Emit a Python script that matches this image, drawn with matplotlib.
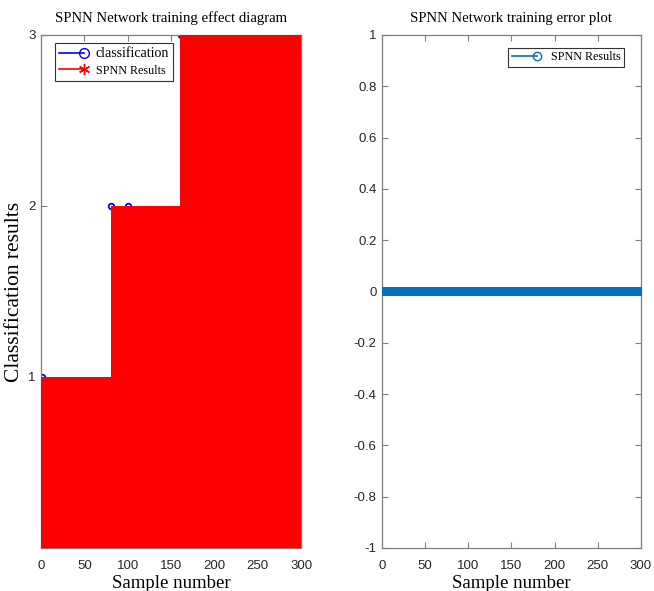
import numpy as np
import matplotlib
matplotlib.use('Agg')
import matplotlib.pyplot as plt
from matplotlib.lines import Line2D
from matplotlib.legend_handler import HandlerLine2D

# samples and their class labels (three blocks of training data)
samples = np.arange(1, 301)
class_bounds = [(1, 80, 1), (81, 160, 2), (161, 300, 3)]
classification = np.concatenate([np.full(hi - lo + 1, c) for lo, hi, c in class_bounds])
spnn_result = classification.copy()
train_error = spnn_result - classification

# markers of the target curve that show past the network output
shown_marks = [0, 80, 99, 160, 197, 299]

xticks = [0, 50, 100, 150, 200, 250, 300]
yticks_left = [1, 2, 3]
yticks_right = [-1, -0.8, -0.6, -0.4, -0.2, 0, 0.2, 0.4, 0.6, 0.8, 1]
ylabels_right = ['-1', '-0.8', '-0.6', '-0.4', '-0.2', '0', '0.2', '0.4', '0.6', '0.8', '1']

serif = 'Liberation Serif'
sans = 'Liberation Sans'
spine_col = '#7f7f7f'
tick_col = '#262626'


class EndMarkerHandler(HandlerLine2D):
    'legend line with its marker at the right end'
    def create_artists(self, *args, **kwargs):
        arts = super().create_artists(*args, **kwargs)
        for a in arts:
            a.set_markevery([2])
        return arts


fig = plt.figure(figsize=(6.54, 5.91), dpi=100)
ax1 = fig.add_axes([0.0627, 0.0728, 0.3976, 0.868])
ax2 = fig.add_axes([0.584, 0.0728, 0.396, 0.868])

def style(ax):
    for s in ax.spines.values():
        s.set_color(spine_col)
        s.set_linewidth(0.9)
    ax.tick_params(direction='in', top=True, right=True, length=4,
                   color=spine_col, labelsize=9.5, labelcolor=tick_col)
    ax.tick_params(axis='x', pad=9)
    ax.tick_params(axis='y', pad=4)
    for lab in ax.get_xticklabels() + ax.get_yticklabels():
        lab.set_family(sans)
    ax.set_xlim(0, 300)

# left: classification vs network output
ax1.plot(samples, classification, 'o', color='blue', ms=4, mfc='none', mew=1.3,
         markevery=shown_marks, zorder=2)
ax1.bar(samples, spnn_result, width=1.0, color='red', lw=0, zorder=3)
ax1.set_ylim(0, 3)
ax1.set_xticks(xticks)
ax1.set_yticks(yticks_left)
style(ax1)
ax1.set_title('SPNN Network training effect diagram', family=serif, fontsize=10.6, pad=9)
ax1.set_xlabel('Sample number', family=serif, fontsize=13.5, labelpad=2)
ax1.set_ylabel('Classification results', family=serif, fontsize=15.5, labelpad=3)
h1 = [Line2D([], [], color='blue', marker='o', mfc='none', ms=7, lw=1.2),
      Line2D([], [], color='red', marker=(6, 2, 0), ms=8, lw=1.2)]
leg1 = ax1.legend(h1, ['classification', 'SPNN Results'], loc='upper left',
                  bbox_to_anchor=(0.03, 0.997), fancybox=False, edgecolor='#333333',
                  framealpha=1, handlelength=2.0, borderpad=0.35, labelspacing=0.35,
                  handletextpad=0.9, fontsize=9,
                  handler_map={Line2D: EndMarkerHandler()})
leg1.get_frame().set_linewidth(0.8)
leg1.set_zorder(5)
leg1.get_texts()[0].set_family(serif)
leg1.get_texts()[0].set_fontsize(10)
leg1.get_texts()[1].set_family(serif)
leg1.get_texts()[1].set_fontsize(8.7)

# right: training error
ax2.plot(samples, train_error, '-o', color='#0072BD', ms=5.5, lw=1, zorder=3)
ax2.set_ylim(-1, 1)
ax2.set_xticks(xticks)
ax2.set_yticks(yticks_right)
ax2.set_yticklabels(ylabels_right)
style(ax2)
ax2.set_title('SPNN Network training error plot', family=serif, fontsize=10.6, pad=9)
ax2.set_xlabel('Sample number', family=serif, fontsize=13.5, labelpad=2)
h2 = [Line2D([], [], color='#0072BD', marker='o', mfc='none', ms=6, lw=1.2)]
leg2 = ax2.legend(h2, ['SPNN Results'], loc='upper right', bbox_to_anchor=(0.958, 0.987),
                  fancybox=False, edgecolor='#333333', framealpha=1, handlelength=2.1,
                  borderpad=0.3, handletextpad=1.1, prop={'family': serif, 'size': 8.7},
                  handler_map={Line2D: EndMarkerHandler()})
leg2.get_frame().set_linewidth(0.8)

fig.savefig('out.png', dpi=100)
